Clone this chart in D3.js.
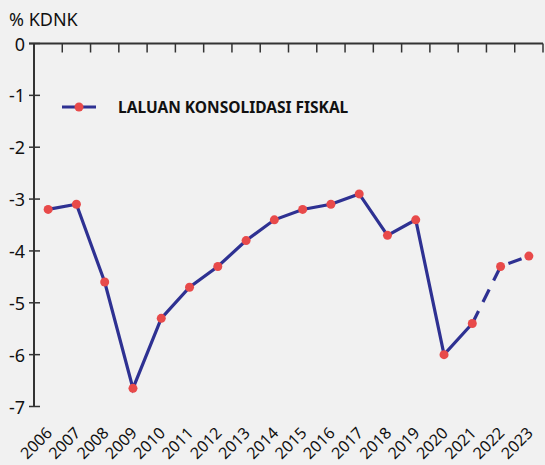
<!DOCTYPE html>
<html>
<head>
<meta charset="utf-8">
<script src="https://cdn.jsdelivr.net/npm/d3@7"></script>
<style>
  body { margin: 0; background: #f1f1f1; }
  svg { display: block; font-family: "Noto Sans", "Open Sans", sans-serif; }
</style>
</head>
<body>
<svg id="chart" width="545" height="465"></svg>
<script>
// years along the x axis
const years = ["2006", "2007", "2008", "2009", "2010", "2011", "2012", "2013", "2014",
  "2015", "2016", "2017", "2018", "2019", "2020", "2021", "2022", "2023"];
// fiscal balance, % of GDP
const balance = [-3.2, -3.1, -4.6, -6.65, -5.3, -4.7, -4.3, -3.8, -3.4,
  -3.2, -3.1, -2.9, -3.7, -3.4, -6.0, -5.4, -4.3, -4.1];
const yTicks = [0, -1, -2, -3, -4, -5, -6, -7];
const lastActual = "2021"; // after this the line is dashed (projection)

const svg = d3.select("#chart");
const lineColor = "#2e3192";
const dotColor = "#e84a4a";
const axisColor = "#333";

const x = d3.scaleBand().domain(years).range([34, 543]);
const y = d3.scaleLinear().domain([-7, 0]).range([406.5, 43.5]);

const data = years.map((yr, i) => ({ year: yr, value: balance[i] }));

// y axis
const yAxis = svg.append("g");
yAxis.append("line")
  .attr("x1", x.range()[0]).attr("x2", x.range()[0])
  .attr("y1", y(-7)).attr("y2", y(0))
  .attr("stroke", axisColor).attr("stroke-width", 2);
yAxis.selectAll(".ytick")
  .data(yTicks)
  .join("line")
  .attr("x1", 29).attr("x2", 40)
  .attr("y1", d => y(d)).attr("y2", d => y(d))
  .attr("stroke", axisColor).attr("stroke-width", 1.5);
yAxis.selectAll(".ylab")
  .data(yTicks)
  .join("text")
  .attr("x", 25)
  .attr("y", d => y(d) + 7)
  .attr("text-anchor", "end")
  .attr("font-size", 18)
  .attr("fill", "#111")
  .text(d => d);

svg.append("text")
  .attr("x", 9).attr("y", 26)
  .attr("font-size", 18)
  .attr("fill", "#111")
  .text("% KDNK");

// x axis sits on the zero line with ticks at band edges
const xAxis = svg.append("g");
xAxis.append("line")
  .attr("x1", 29).attr("x2", x.range()[1])
  .attr("y1", y(0)).attr("y2", y(0))
  .attr("stroke", axisColor).attr("stroke-width", 2);
xAxis.selectAll(".xtick")
  .data(years)
  .join("line")
  .attr("x1", d => x(d) + x.bandwidth()).attr("x2", d => x(d) + x.bandwidth())
  .attr("y1", y(0)).attr("y2", y(0) + 9)
  .attr("stroke", axisColor).attr("stroke-width", 1.5);

svg.append("g").selectAll("text")
  .data(years)
  .join("text")
  .attr("transform", d => `translate(${x(d) + x.bandwidth() / 2 + 5},${434}) rotate(-45)`)
  .attr("text-anchor", "end")
  .attr("font-size", 16)
  .attr("fill", "#111")
  .text(d => d);

// line: solid up to lastActual, dashed after
const line = d3.line()
  .x(d => x(d.year) + x.bandwidth() / 2)
  .y(d => y(d.value));
const cut = years.indexOf(lastActual);

svg.append("path")
  .datum(data.slice(0, cut + 1))
  .attr("d", line)
  .attr("fill", "none")
  .attr("stroke", lineColor)
  .attr("stroke-width", 3.2);
svg.append("path")
  .datum(data.slice(cut))
  .attr("d", line)
  .attr("fill", "none")
  .attr("stroke", lineColor)
  .attr("stroke-width", 3.2)
  .attr("stroke-dasharray", "14,10");

svg.append("g").selectAll("circle")
  .data(data)
  .join("circle")
  .attr("cx", d => x(d.year) + x.bandwidth() / 2)
  .attr("cy", d => y(d.value))
  .attr("r", 4.5)
  .attr("fill", dotColor);

// legend
const legend = svg.append("g");
legend.append("line")
  .attr("x1", 62).attr("x2", 96)
  .attr("y1", 107).attr("y2", 107)
  .attr("stroke", lineColor).attr("stroke-width", 3.2);
legend.append("circle")
  .attr("cx", 79).attr("cy", 107).attr("r", 4.5)
  .attr("fill", dotColor);
legend.append("text")
  .attr("x", 118).attr("y", 112.5)
  .attr("font-size", 15.5)
  .attr("font-weight", "bold")
  .attr("fill", "#111")
  .text("LALUAN KONSOLIDASI FISKAL");
</script>
</body>
</html>
